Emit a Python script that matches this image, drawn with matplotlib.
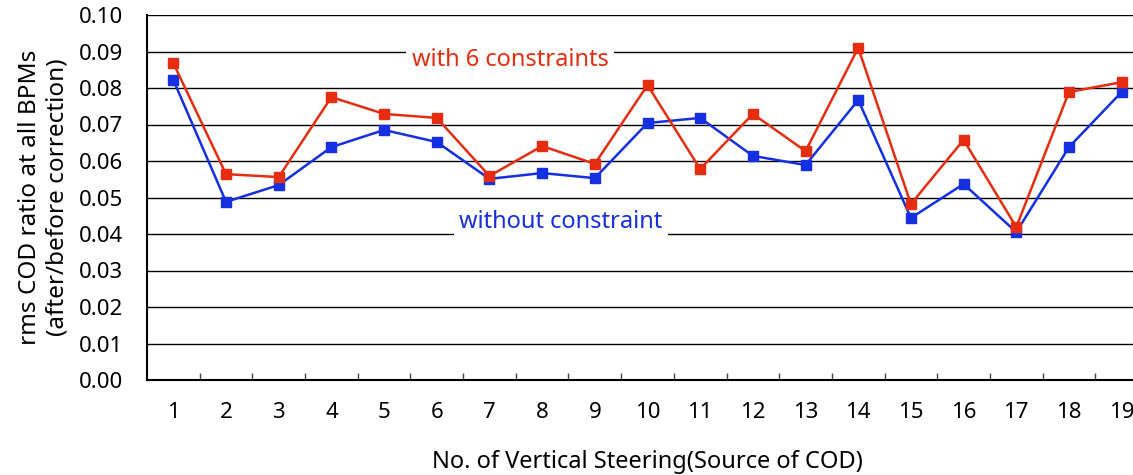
import matplotlib
matplotlib.use("Agg")
import matplotlib.pyplot as plt
import numpy as np

# rms COD ratio per vertical steering
steering = list(range(1, 20))
with_6 = [0.0868, 0.0564, 0.0556, 0.0775, 0.0729, 0.0718, 0.0559, 0.0641, 0.0592,
          0.0808, 0.0578, 0.0729, 0.0627, 0.0910, 0.0482, 0.0658, 0.0419, 0.0789, 0.0816]
without = [0.0822, 0.0488, 0.0534, 0.0638, 0.0685, 0.0652, 0.0551, 0.0567, 0.0553,
           0.0704, 0.0718, 0.0614, 0.0589, 0.0767, 0.0444, 0.0537, 0.0405, 0.0638, 0.0789]
yticks = [i / 100 for i in range(11)]

RED = "#e62d10"
BLUE = "#1430e0"

plt.rcParams["font.family"] = ["Noto Sans", "DejaVu Sans"]

fig = plt.figure(figsize=(11.33, 4.75), dpi=100)
# axes runs past the right edge, like the cropped original
ax = fig.add_axes([147 / 1133, 95 / 475, 1001 / 1133, 365 / 475])

x = np.arange(len(steering))
ax.plot(x, without, color=BLUE, lw=1.8, marker="s", ms=7, zorder=3)
ax.plot(x, with_6, color=RED, lw=1.8, marker="s", ms=7, zorder=4)

ax.set_xlim(-0.5, len(steering) - 0.5)
ax.set_ylim(0, 0.10)
ax.set_yticks(yticks)
ax.set_yticklabels([f"{v:.2f}" for v in yticks])
ax.yaxis.grid(True, color="black", lw=1.0)
ax.set_axisbelow(True)
ax.tick_params(axis="y", length=0, pad=17, labelsize=16)

ax.set_xticks(x)
ax.set_xticklabels([str(s) for s in steering])
ax.tick_params(axis="x", which="major", length=0, pad=16, labelsize=16)
ax.set_xticks(np.arange(0.5, len(steering) - 0.5), minor=True)
ax.tick_params(axis="x", which="minor", direction="in", length=5, width=1, color="#444444")

for s in ["top", "right"]:
    ax.spines[s].set_visible(False)
for s in ["left", "bottom"]:
    ax.spines[s].set_linewidth(1.5)

ax.set_ylabel("rms COD ratio at all BPMs\n(after/before correction)", fontsize=17.5, labelpad=7,
              linespacing=1.2)
ax.set_xlabel("No. of Vertical Steering(Source of COD)", fontsize=17, labelpad=19)

ax.text(6.39, 0.0877, "with 6 constraints", color=RED, fontsize=17, ha="center", va="center",
        bbox=dict(facecolor="white", edgecolor="none", pad=4), zorder=5)
ax.text(7.36, 0.0433, "without constraint", color=BLUE, fontsize=17, ha="center", va="center",
        bbox=dict(facecolor="white", edgecolor="none", pad=4), zorder=5)

fig.savefig("out.png", dpi=100)
